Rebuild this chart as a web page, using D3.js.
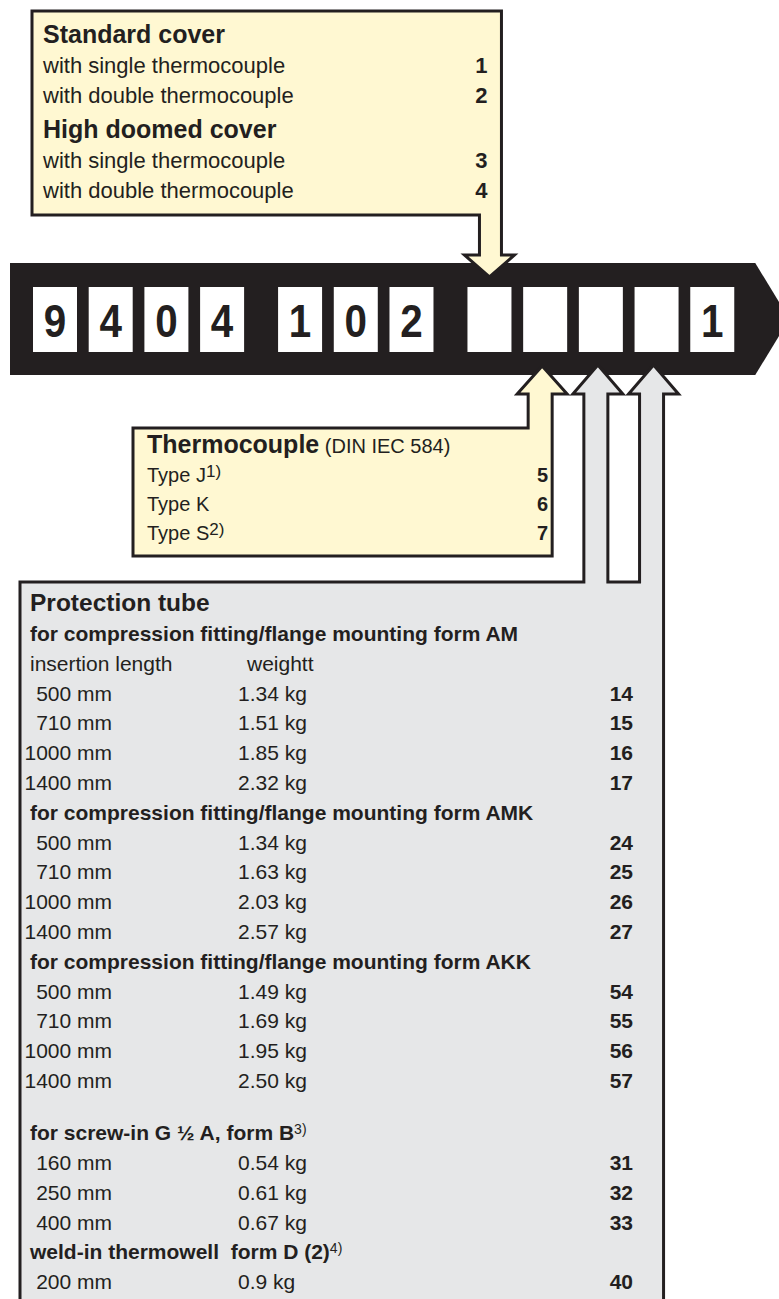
<!DOCTYPE html>
<meta charset="utf-8">
<style>
body { margin: 0; background: #fff; }
text { font-family: "Liberation Sans", Arial, sans-serif; fill: #231f20; white-space: pre; }
.outline { stroke: #231f20; stroke-width: 3px; stroke-linejoin: miter; }
.yellow { fill: #fff8d2; }
.grey { fill: #e6e7e8; }
</style>
<body>
<script src="https://d3js.org/d3.v7.min.js"></script>
<script>

// order code: blank slots are the ones to be chosen
var codeDigits = ["9", "4", "0", "4", "1", "0", "2", "", "", "", "", "1"];
var codeGroups = [0, 0, 0, 0, 1, 1, 1, 2, 2, 2, 2, 2];

// cover (slot 8)
var coverTitles = ["Standard cover", "High doomed cover"];
var coverOptions = ["with single thermocouple", "with double thermocouple"];
var coverCodes = [["1", "2"], ["3", "4"]];

// thermocouple (slot 9)
var tcTitle = "Thermocouple";
var tcNorm = "(DIN IEC 584)";
var tcTypes = ["Type J", "Type K", "Type S"];
var tcNotes = ["1)", "", "2)"];
var tcCodes = ["5", "6", "7"];

// protection tube (slots 10 + 11)
var tubeTitle = "Protection tube";
var tubeSections = [
  "for compression fitting/flange mounting form AM",
  "for compression fitting/flange mounting form AMK",
  "for compression fitting/flange mounting form AKK",
  "for screw-in G \u00bd A, form B",
  "weld-in thermowell  form D (2)"
];
var sectionNotes = ["", "", "", "3)", "4)"];
var columnHeads = ["insertion length", "weightt"];
var tubeLengths = [
  [500, 710, 1000, 1400],
  [500, 710, 1000, 1400],
  [500, 710, 1000, 1400],
  [160, 250, 400],
  [200]
];
var tubeWeights = [
  ["1.34", "1.51", "1.85", "2.32"],
  ["1.34", "1.63", "2.03", "2.57"],
  ["1.49", "1.69", "1.95", "2.50"],
  ["0.54", "0.61", "0.67"],
  ["0.9"]
];
var tubeCodes = [
  [14, 15, 16, 17],
  [24, 25, 26, 27],
  [54, 55, 56, 57],
  [31, 32, 33],
  [40]
];

var width = 779, height = 1299;
var ink = "#231f20";

var svg = d3.select("body").append("svg")
    .attr("width", width)
    .attr("height", height);

// slot positions along the code bar
var xSlot = d3.scaleLinear().domain([0, 1]).range([33, 88.7]);
var slotW = 44;
function slotX(i) { return xSlot(i + 0.4 * codeGroups[i]); }
function slotMid(i) { return slotX(i) + slotW / 2; }

var line = d3.line();
function closed(pts) { return line(pts) + "Z"; }

// black code bar with pointed end
var barTop = 263, barBot = 375, barMid = (barTop + barBot) / 2;
var barEnd = slotX(11) + slotW + 21;
svg.append("path")
    .attr("d", closed([[10, barTop], [barEnd, barTop], [barEnd + 34, barMid], [barEnd, barBot], [10, barBot]]))
    .attr("fill", ink);

// white digit boxes
var slots = svg.selectAll(".slot")
    .data(codeDigits)
  .enter().append("g")
    .attr("class", "slot")
    .attr("transform", function(d, i) { return "translate(" + slotX(i) + ",287)"; });
slots.append("rect")
    .attr("width", slotW)
    .attr("height", 65)
    .attr("fill", "#fff");
slots.append("text")
    .attr("transform", "translate(" + (slotW / 2) + ",50) scale(0.86,1)")
    .attr("text-anchor", "middle")
    .style("font-size", "47px")
    .style("font-weight", "bold")
    .text(function(d) { return d; });

function addText(x, y, str, size, bold, anchor) {
  return svg.append("text")
      .attr("x", x)
      .attr("y", y)
      .attr("text-anchor", anchor || "start")
      .style("font-size", size + "px")
      .style("font-weight", bold ? "bold" : "normal")
      .text(str);
}

// ---- cover box, arrow down into slot 8
var t0 = slotMid(7);
svg.append("path")
    .attr("class", "outline yellow")
    .attr("d", closed([[32, 11], [t0 + 12, 11], [t0 + 12, 255], [t0 + 25, 255], [t0, 277],
                       [t0 - 25, 255], [t0 - 10, 255], [t0 - 10, 215], [32, 215]]));

var topRow = d3.scaleLinear().domain([0, 1]).range([43, 73]);
coverTitles.forEach(function(title, s) {
  addText(43, topRow(s * 3) + s * 5, title, 25, true);
  coverOptions.forEach(function(opt, r) {
    var y = topRow(s * 3 + r + 1) + s * 5;
    addText(43, y, opt, 22, false);
    addText(t0 - 2, y, coverCodes[s][r], 22, true, "end");
  });
});

// ---- thermocouple box, arrow up into slot 9
var t1 = slotMid(8) - 3;
svg.append("path")
    .attr("class", "outline yellow")
    .attr("d", closed([[133, 428], [t1 - 14, 428], [t1 - 14, 394], [t1 - 25, 394], [t1, 366],
                       [t1 + 25, 394], [t1 + 10, 394], [t1 + 10, 556], [133, 556]]));

var tcRow = d3.scaleLinear().domain([0, 1]).range([453, 482]);
var tcHead = addText(147, tcRow(0), tcTitle, 25, true);
tcHead.append("tspan")
    .style("font-size", "20px")
    .style("font-weight", "normal")
    .text(" " + tcNorm);
tcTypes.forEach(function(t, i) {
  var txt = addText(147, tcRow(i + 1), t, 20, false);
  if (tcNotes[i]) {
    txt.append("tspan")
        .attr("dy", -5)
        .style("font-size", "17px")
        .text(tcNotes[i]);
  }
  addText(t1 + 6, tcRow(i + 1), tcCodes[i], 20, true, "end");
});

// ---- protection tube box, two arrows up into slots 10 + 11
var t2 = slotMid(9) - 3, t3 = slotMid(10) - 3;
svg.append("path")
    .attr("class", "outline grey")
    .attr("d", closed([[20, 582], [t2 - 14, 582], [t2 - 14, 394], [t2 - 25, 394], [t2, 365],
                       [t2 + 25, 394], [t2 + 10, 394], [t2 + 10, 582],
                       [t3 - 14, 582], [t3 - 14, 394], [t3 - 25, 394], [t3, 365],
                       [t3 + 25, 394], [t3 + 10, 394], [t3 + 10, 1310], [20, 1310]]));

var yRow = d3.scaleLinear().domain([0, 1]).range([641, 670.8]);
addText(30, yRow(-1), tubeTitle, 24.5, true);

var row = 0;
tubeSections.forEach(function(sec, s) {
  if (s === 3) row += 0.75;   // blank line before the screw-in forms
  var head = addText(30, yRow(row), sec, 21, true);
  if (sectionNotes[s]) {
    head.append("tspan")
        .attr("dy", -6)
        .style("font-size", "14px")
        .style("font-weight", "normal")
        .text(sectionNotes[s]);
  }
  row += 1;
  if (s === 0) {
    addText(30, yRow(row), columnHeads[0], 21, false);
    addText(247, yRow(row), columnHeads[1], 21, false);
    row += 1;
  }
  tubeLengths[s].forEach(function(len, i) {
    var y = yRow(row);
    addText(112, y, len + " mm", 21, false, "end");
    addText(238, y, tubeWeights[s][i] + " kg", 21, false);
    addText(633, y, tubeCodes[s][i], 21, true, "end");
    row += 1;
  });
});

</script>
</body>
